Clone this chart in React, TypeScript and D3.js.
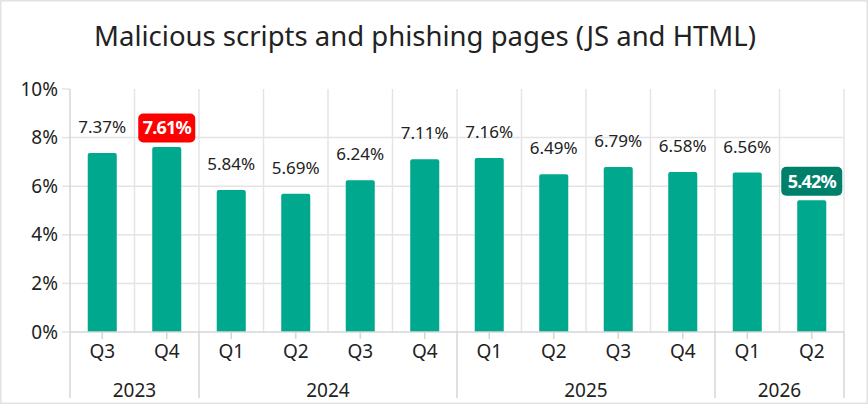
import * as d3 from "d3";

const quarters = ["Q3", "Q4", "Q1", "Q2", "Q3", "Q4", "Q1", "Q2", "Q3", "Q4", "Q1", "Q2"];
const yearOf = ["2023", "2023", "2024", "2024", "2024", "2024", "2025", "2025", "2025", "2025", "2026", "2026"];
const shares = [7.37, 7.61, 5.84, 5.69, 6.24, 7.11, 7.16, 6.49, 6.79, 6.58, 6.56, 5.42];
// which labels sit in a coloured badge: "max", "last" or none
const badges = ["", "max", "", "", "", "", "", "", "", "", "", "last"];
const yTicks = [0, 2, 4, 6, 8, 10];

const width = 868;
const height = 404;
const font = "'Noto Sans', sans-serif";

export default function App() {
    const left = 70;
    const right = 844;
    const top = 89;
    const bottom = 332;

    const keys = quarters.map((q, i) => `${yearOf[i]}-${q}`);

    const x = d3.scaleBand<string>()
        .domain(keys)
        .range([left, right])
        .paddingInner(0.55)
        .paddingOuter(0.275);

    const y = d3.scaleLinear().domain([0, 10]).range([bottom, top]);

    const step = x.step();
    const bw = x.bandwidth();

    // year groups built from the category list
    const groups = d3.groups(keys.map((k, i) => ({ k, i, year: yearOf[i] })), (d) => d.year)
        .map(([year, items]) => ({
            year,
            x0: left + items[0].i * step,
            x1: left + (items[items.length - 1].i + 1) * step,
        }));

    const gridColor = "#e4e4e4";
    const axisColor = "#d6d6d6";
    const barColor = "#00a88e";

    const barPath = (x0: number, y0: number, w: number, h: number, r: number) =>
        `M${x0},${y0 + h}V${y0 + r}Q${x0},${y0} ${x0 + r},${y0}H${x0 + w - r}Q${x0 + w},${y0} ${x0 + w},${y0 + r}V${y0 + h}Z`;

    return (
        <svg width={width} height={height} style={{ position: "absolute", left: 0, top: 0, background: "#fff" }} fontFamily={font}>
            <rect x={0.75} y={0.75} width={width - 1.5} height={height - 1.5} fill="#fff" stroke="#e2e2e2" strokeWidth={1.5} />

            <text x={425} y={46} textAnchor="middle" fontSize={27.5} fill="#222">
                Malicious scripts and phishing pages (JS and HTML)
            </text>

            {/* horizontal grid + y ticks */}
            {yTicks.map((t) => (
                <g key={t}>
                    {t > 0 && t < 10 && (
                        <line x1={left} x2={right} y1={y(t)} y2={y(t)} stroke={gridColor} strokeWidth={1.5} />
                    )}
                    <line x1={left - 8} x2={left} y1={y(t)} y2={y(t)} stroke={gridColor} strokeWidth={1.5} />
                    <text x={58} y={y(t)} dy="0.35em" textAnchor="end" fontSize={19} fill="#222">
                        {t}%
                    </text>
                </g>
            ))}

            {/* vertical grid between categories */}
            {keys.map((k, i) => (
                <line key={k} x1={left + (i + 1) * step} x2={left + (i + 1) * step} y1={top} y2={bottom}
                    stroke={gridColor} strokeWidth={1.5} />
            ))}
            <line x1={left} x2={left} y1={top} y2={bottom} stroke={axisColor} strokeWidth={1.5} />

            {/* bars */}
            {keys.map((k, i) => (
                <path key={k} d={barPath(x(k)!, y(shares[i]), bw, bottom - y(shares[i]), 2)} fill={barColor} />
            ))}

            {/* x axis */}
            <line x1={left} x2={right} y1={bottom} y2={bottom} stroke={axisColor} strokeWidth={1.5} />
            {keys.map((k, i) => (
                <g key={k}>
                    <line x1={x(k)! + bw / 2} x2={x(k)! + bw / 2} y1={bottom} y2={bottom + 7} stroke={axisColor} strokeWidth={1.5} />
                    <text x={x(k)! + bw / 2} y={358} textAnchor="middle" fontSize={19} fill="#222">
                        {quarters[i]}
                    </text>
                </g>
            ))}
            {groups.map((g, gi) => (
                <g key={g.year}>
                    {gi === 0 && <line x1={g.x0} x2={g.x0} y1={bottom} y2={398} stroke={axisColor} strokeWidth={1.5} />}
                    <line x1={g.x1} x2={g.x1} y1={bottom} y2={398} stroke={axisColor} strokeWidth={1.5} />
                    <text x={(g.x0 + g.x1) / 2} y={397} textAnchor="middle" fontSize={19} fill="#222">
                        {g.year}
                    </text>
                </g>
            ))}

            {/* value labels */}
            {keys.map((k, i) => {
                const cx = x(k)! + bw / 2;
                const label = `${shares[i].toFixed(2)}%`;
                if (badges[i]) {
                    const cy = y(shares[i]) - 19;
                    const bwid = badges[i] === "max" ? 57 : 61;
                    return (
                        <g key={k}>
                            <rect x={cx - bwid / 2} y={cy - 14.5} width={bwid} height={29} rx={5}
                                fill={badges[i] === "max" ? "#ff0000" : "#007f6a"} />
                            <text x={cx} y={cy} dy="0.35em" textAnchor="middle" fontSize={18} fontWeight="bold"
                                fill="#fff" letterSpacing={-0.8}>
                                {label}
                            </text>
                        </g>
                    );
                }
                return (
                    <text key={k} x={cx} y={y(shares[i]) - 26} dy="0.35em" textAnchor="middle" fontSize={17} fill="#222">
                        {label}
                    </text>
                );
            })}
        </svg>
    );
}
